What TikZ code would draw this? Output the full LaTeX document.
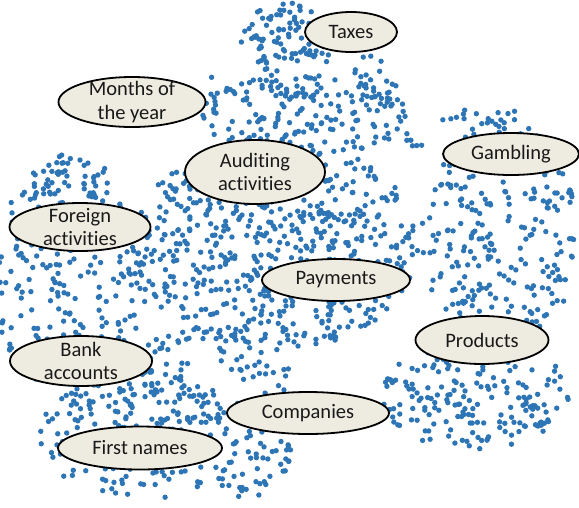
\documentclass[tikz,border=0pt]{standalone}
\usepackage{fontspec}
\setmainfont{Carlito}[Ligatures=NoCommon]
\usetikzlibrary{shapes.geometric}
\definecolor{dotblue}{RGB}{46,117,182}
\definecolor{ellfill}{RGB}{238,236,225}
\begin{document}
\begin{tikzpicture}[x=1pt,y=-1pt,
  dot/.style={fill=dotblue},
  blob/.style={ellipse, draw=black, line width=1.8pt, fill=ellfill, inner sep=0pt},
  lbl/.style={align=center, font=\fontsize{20.5}{23.5}\selectfont, inner sep=0pt, text=black!90}]
\useasboundingbox (0,0) rectangle (579,507);
\pgfmathsetseed{4242}
\begin{scope}
\clip (0,0) rectangle (579,507);
\foreach \cx/\cy/\a/\b/\n in {
  285/50/45/50/110,
  372/85/25/30/25,
  305/115/105/40/160,
  275/245/145/105/600,
  70/275/78/120/240,
  500/235/78/115/260,
  475/395/95/55/190,
  140/435/100/65/210,
  252/460/40/42/55,
  215/370/80/45/90,
  65/185/45/30/40,
  210/90/20/15/6,
  485/120/45/12/15,
  410/145/12/15/6}{
  \foreach \i in {1,...,\n}{
    \pgfmathsetmacro\rdist{sqrt(rnd)}
    \pgfmathsetmacro\angl{360*rnd}
    \fill[dot] ({\cx+\a*\rdist*cos(\angl)},{\cy+\b*\rdist*sin(\angl)}) circle (2.7pt);
  }
}
\end{scope}
% ellipses
\node[blob, minimum width=92pt, minimum height=40pt] (taxes) at (351,32) {};
\node[lbl] (taxesT) at (351,32) {Taxes};
\node[blob, minimum width=147pt, minimum height=50pt] (months) at (132,102) {};
\node[lbl] (monthsT) at (132,102) {Months of\\the year};
\node[blob, minimum width=140pt, minimum height=64pt] (audit) at (255,172) {};
\node[lbl] (auditT) at (255,172) {Auditing\\activities};
\node[blob, minimum width=136pt, minimum height=42pt] (gamb) at (511,154) {};
\node[lbl] (gambT) at (511,154) {Gambling};
\node[blob, minimum width=141pt, minimum height=48pt] (foreign) at (80,227) {};
\node[lbl] (foreignT) at (80,227) {Foreign\\activities};
\node[blob, minimum width=148pt, minimum height=42pt] (pay) at (336,280) {};
\node[lbl] (payT) at (336,280) {Payments};
\node[blob, minimum width=133pt, minimum height=48pt] (prod) at (482,340) {};
\node[lbl] (prodT) at (482,340) {Products};
\node[blob, minimum width=142pt, minimum height=50pt] (bank) at (81,361) {};
\node[lbl] (bankT) at (81,361) {Bank\\accounts};
\node[blob, minimum width=162pt, minimum height=42pt] (comp) at (308,413) {};
\node[lbl] (compT) at (308,413) {Companies};
\node[blob, minimum width=164pt, minimum height=43pt] (first) at (140,448) {};
\node[lbl] (firstT) at (140,448) {First names};
\end{tikzpicture}
\end{document}
